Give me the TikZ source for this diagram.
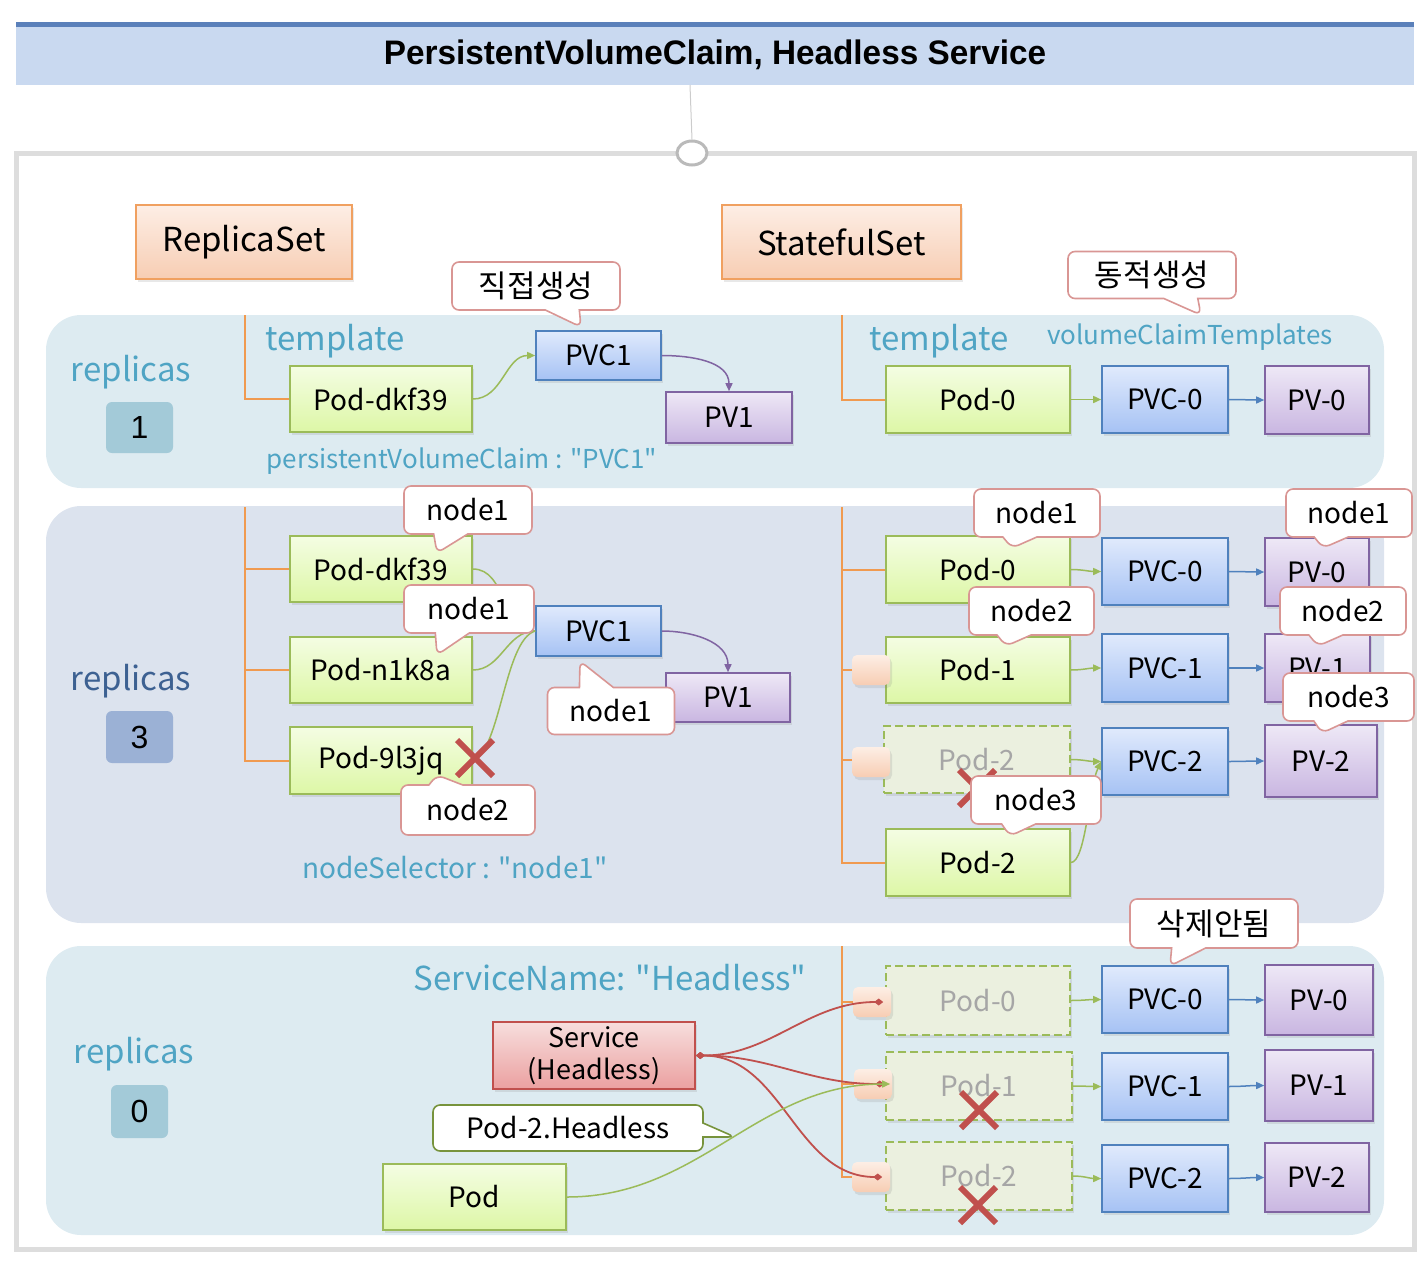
\documentclass[tikz,border=0pt]{standalone}
\usepackage{fontspec}
\setmainfont{Noto Sans CJK KR}[Ligatures=TeXOff]
\newfontfamily\arialfont{Liberation Sans}
\usetikzlibrary{shapes.callouts,shapes.geometric,shadows,arrows.meta}
\definecolor{podbd}{HTML}{9BBB59}
\definecolor{podtop}{HTML}{F4FDE3}
\definecolor{podbot}{HTML}{DDF7A6}
\definecolor{pvcbd}{HTML}{4F81BD}
\definecolor{pvctop}{HTML}{E0EAFC}
\definecolor{pvcbot}{HTML}{A6C2F4}
\definecolor{pvbd}{HTML}{8064A2}
\definecolor{pvtop}{HTML}{EEE8F6}
\definecolor{pvbot}{HTML}{C9B6E1}
\definecolor{orbd}{HTML}{F0A060}
\definecolor{ortop}{HTML}{FDEEE5}
\definecolor{orbot}{HTML}{F7CDB3}
\definecolor{redbd}{HTML}{C0504D}
\definecolor{redtop}{HTML}{F7DEDD}
\definecolor{redbot}{HTML}{EBA0A0}
\definecolor{calbd}{HTML}{D99694}
\definecolor{tealtxt}{HTML}{4FA4C4}
\definecolor{navytxt}{HTML}{3D6192}
\definecolor{bandA}{HTML}{DDEBF1}
\definecolor{bandB}{HTML}{DCE3EE}
\definecolor{ghostfill}{HTML}{EBF0DF}
\definecolor{ghosttext}{HTML}{A6A6A6}
\definecolor{treec}{HTML}{F09A50}
\definecolor{titlefill}{HTML}{C9D9F0}
\definecolor{titleline}{HTML}{5A80BA}
\definecolor{framec}{HTML}{DDDDDD}
\definecolor{digA}{HTML}{A3CAD8}
\definecolor{digB}{HTML}{9BB1D5}
\definecolor{hcallbd}{HTML}{77933C}
\tikzset{
  shad/.style={drop shadow={shadow xshift=2pt,shadow yshift=-3pt,opacity=0.18}},
  wh/.style 2 args={minimum width=#1pt,minimum height=#2pt},
  box/.style={draw,line width=1.6pt,inner sep=0pt,shad,font=\fontsize{28}{32}\selectfont},
  pod/.style={box,draw=podbd,top color=podtop,bottom color=podbot},
  ghost/.style={draw=podbd,dash pattern=on 8pt off 4pt,line width=1.8pt,fill=ghostfill,text=ghosttext,shad,inner sep=0pt,font=\fontsize{28}{32}\selectfont},
  pvc/.style={box,draw=pvcbd,top color=pvctop,bottom color=pvcbot},
  pvb/.style={box,draw=pvbd,top color=pvtop,bottom color=pvbot},
  setbox/.style={box,draw=orbd,top color=ortop,bottom color=orbot,font=\fontsize{33}{36}\selectfont},
  sq/.style={rounded corners=5pt,top color=ortop,bottom color=orbot,shad,minimum width=38pt,minimum height=30pt,inner sep=0pt},
  call/.style={rectangle callout,draw=calbd,line width=1.6pt,fill=white,rounded corners=7pt,inner sep=0pt,callout pointer width=34pt,font=\fontsize{28}{32}\selectfont},
  kor/.style={font=\fontsize{31}{34}\selectfont},
  lab/.style={text=tealtxt,inner sep=0pt,anchor=base,font=\fontsize{33}{36}\selectfont},
  labs/.style={text=tealtxt,inner sep=0pt,anchor=base,font=\fontsize{26}{30}\selectfont},
  dig/.style={rounded corners=6pt,inner sep=0pt,font=\arialfont\fontsize{32}{34}\selectfont},
  garr/.style={draw=podbd,line width=1.5pt,-{Triangle[length=8pt,width=7pt]}},
  gln/.style={draw=podbd,line width=1.5pt},
  barr/.style={draw=pvcbd,line width=1.5pt,-{Triangle[length=8pt,width=7pt]}},
  parr/.style={draw=pvbd,line width=1.5pt,-{Triangle[length=8pt,width=7pt]}},
  rln/.style={draw=redbd,line width=1.8pt,{Diamond[length=9pt,width=7pt]}-{Diamond[length=9pt,width=7pt]}},
  tree/.style={draw=treec,line width=2pt},
  xmark/.style={draw=redbd,line width=6pt},
}
\begin{document}
\begin{tikzpicture}[x=1pt,y=-1pt]
\useasboundingbox (0,0) rectangle (1428,1264);
% title
\fill[titlefill] (16,24) rectangle (1414,85);
\draw[titleline,line width=5pt] (16,24) -- (1414,24);
\node[font=\arialfont\bfseries\fontsize{34}{38}\selectfont,inner sep=0pt,xscale=0.98] (title) at (715,55) {PersistentVolumeClaim, Headless Service};
% frame
\draw[framec,line width=5pt] (16,153) rectangle (1414,1249);
\node[draw=black!27,line width=3pt,fill=white,ellipse,minimum width=30pt,minimum height=24pt,inner sep=0pt] (knob) at (692,153) {};
\draw[black!20,line width=1pt] (690,85) -- (knob.north);
% bands
\fill[bandA,rounded corners=35pt] (46,315) rectangle (1384,488);
\fill[bandB,rounded corners=35pt] (46,506) rectangle (1384,923);
\fill[bandA,rounded corners=35pt] (46,946) rectangle (1384,1235);
% set boxes
\node[setbox,wh={216}{74}] (rs) at (244,242) {ReplicaSet};
\node[setbox,wh={239}{74}] (ss) at (841.5,242) {StatefulSet};
% labels
\node[lab] (rep1) at (131,381) {replicas};
\node[dig,fill=digA,wh={67}{51}] (d1) at (139.5,427.5) {1};
\node[lab] (tpl1) at (335,350) {template};
\node[labs] (pvcl) at (462,468) {persistentVolumeClaim : "PVC1"};
\node[lab] (tpl2) at (939,350) {template};
\node[labs] (vct) at (1190,344) {volumeClaimTemplates};
\node[lab,text=navytxt] (rep2) at (131,690) {replicas};
\node[dig,fill=digB,wh={67}{52}] (d3) at (139.5,737) {3};
\node[labs,font=\fontsize{28}{32}\selectfont] (nsel) at (455,878) {nodeSelector : "node1"};
\node[lab] (rep3) at (134,1063) {replicas};
\node[dig,fill=digA,wh={57}{53}] (d0) at (139.5,1111.5) {0};
\node[lab] (svn) at (610,990) {ServiceName: "Headless"};
% tree anchor coordinates
\coordinate (t1a) at (245,315);
\coordinate (t1b) at (842,315);
\coordinate (t2a) at (245,507);
\coordinate (t2b) at (842,507);
\coordinate (t3b) at (842,946);
% ===== band 1 boxes
\node[pod,wh={182}{66}] (a1pod) at (381,399) {Pod-dkf39};
\node[pvc,wh={125}{49}] (a1pvc) at (598.5,355.5) {PVC1};
\node[pvb,wh={126}{51}] (a1pv) at (729,417.5) {PV1};
\node[pod,wh={184}{67}] (b1pod) at (978,399.5) {Pod-0};
\node[pvc,wh={126}{67}] (b1pvc) at (1165,399.5) {PVC-0};
\node[pvb,wh={104}{68}] (b1pv) at (1317,400) {PV-0};
\draw[tree] (t1a) |- (a1pod.west);
\draw[tree] (t1b) |- (b1pod.west);
% ===== band 2 boxes
\node[pod,wh={182}{66}] (a2p1) at (381,569) {Pod-dkf39};
\node[pod,wh={182}{66}] (a2p2) at (381,670) {Pod-n1k8a};
\node[pod,wh={182}{67}] (a2p3) at (381,760.5) {Pod-9l3jq};
\node[pvc,wh={125}{50}] (a2pvc) at (598.5,631) {PVC1};
\node[pvb,wh={124}{49}] (a2pv) at (728,697.5) {PV1};
\draw[tree] (t2a) |- (a2p3.west);
\draw[tree] (a2p1.west -| t2a) -- (a2p1.west);
\draw[tree] (a2p2.west -| t2a) -- (a2p2.west);
\node[pod,wh={184}{67}] (b2p0) at (978,569.5) {Pod-0};
\node[pod,wh={184}{66}] (b2p1) at (978,670) {Pod-1};
\node[ghost,wh={186}{67}] (b2p2g) at (977,759.5) {Pod-2};
\node[pod,wh={184}{67}] (b2p2) at (978,862.5) {Pod-2};
\node[pvc,wh={126}{67}] (b2pvc0) at (1165,571.5) {PVC-0};
\node[pvc,wh={126}{68}] (b2pvc1) at (1165,668) {PVC-1};
\node[pvc,wh={126}{67}] (b2pvc2) at (1165,761.5) {PVC-2};
\node[pvb,wh={104}{68}] (b2pv0) at (1317,572) {PV-0};
\node[pvb,wh={105}{68}] (b2pv1) at (1317.5,668) {PV-1};
\node[pvb,wh={112}{72}] (b2pv2) at (1321,761) {PV-2};
\draw[tree] (t2b) |- (b2p2.west);
\draw[tree] (b2p0.west -| t2b) -- (b2p0.west);
\draw[tree] (b2p1.west -| t2b) -- (b2p1.west);
\draw[tree] (b2p2g.west -| t2b) -- (b2p2g.west);
\node[sq] (s21) at (871,670) {};
\node[sq] (s22) at (871,762) {};
% ===== band 3 boxes
\node[box,draw=redbd,top color=redtop,bottom color=redbot,wh={202}{67},align=center,font=\fontsize{27}{32}\selectfont] (svc) at (594,1055.5) {Service\\(Headless)};
\node[pod,wh={183}{66}] (podx) at (474.5,1197) {Pod};
\node[ghost,wh={184}{69}] (b3p0) at (978,1000.5) {Pod-0};
\node[ghost,wh={186}{68}] (b3p1) at (979,1086) {Pod-1};
\node[ghost,wh={186}{68}] (b3p2) at (979,1176) {Pod-2};
\node[pvc,wh={126}{67}] (b3pvc0) at (1165,999.5) {PVC-0};
\node[pvc,wh={126}{67}] (b3pvc1) at (1165,1086.5) {PVC-1};
\node[pvc,wh={126}{67}] (b3pvc2) at (1165,1178.5) {PVC-2};
\node[pvb,wh={108}{70}] (b3pv0) at (1319,1000) {PV-0};
\node[pvb,wh={108}{71}] (b3pv1) at (1319,1085.5) {PV-1};
\node[pvb,wh={104}{69}] (b3pv2) at (1317,1177.5) {PV-2};
\coordinate (s30) at (872,1002);
\coordinate (s31) at (873,1084);
\coordinate (s32) at (871,1177);
% ===== connectors band 1
\draw[garr] (a1pod.east) to[out=0,in=180] (a1pvc.west);
\draw[parr] (a1pvc.east) to[out=0,in=90] (a1pv.north);
\draw[garr] (b1pod.east) to[out=0,in=180] (b1pvc.west);
\draw[barr] (b1pvc.east) to[out=0,in=180] (b1pv.west);
% ===== connectors band 2
\draw[gln] (a2p1.east) to[out=0,in=180] (a2pvc.west);
\draw[gln] (a2p2.east) to[out=0,in=180] (a2pvc.west);
\draw[gln] (a2p3.east) .. controls +(28,-10) and +(-31,9) .. (a2pvc.west);
\draw[parr] (a2pvc.east) to[out=0,in=90] (a2pv.north);
\draw[garr] (b2p0.east) to[out=0,in=180] (b2pvc0.west);
\draw[garr] (b2p1.east) to[out=0,in=180] (b2pvc1.west);
\draw[garr] (b2p2g.east) to[out=0,in=180] (b2pvc2.west);
\draw[garr] (b2p2.east) .. controls +(15,0) and +(-12,25) .. (b2pvc2.west);
\draw[barr] (b2pvc0.east) to[out=0,in=180] (b2pv0.west);
\draw[barr] (b2pvc1.east) to[out=0,in=180] (b2pv1.west);
\draw[barr] (b2pvc2.east) to[out=0,in=180] (b2pv2.west);
% ===== connectors band 3
\draw[tree] (t3b) |- (s32);
\draw[tree] (s30 -| t3b) -- (s30);
\draw[tree] (s31 -| t3b) -- (s31);
\node[sq] (q30) at (s30) {};
\node[sq] (q31) at (s31) {};
\node[sq] (q32) at (s32) {};
\draw[garr] (b3p0.east) to[out=0,in=180] (b3pvc0.west);
\draw[garr] (b3p1.east) to[out=0,in=180] (b3pvc1.west);
\draw[garr] (b3p2.east) to[out=0,in=180] (b3pvc2.west);
\draw[barr] (b3pvc0.east) to[out=0,in=180] (b3pv0.west);
\draw[barr] (b3pvc1.east) to[out=0,in=180] (b3pv1.west);
\draw[barr] (b3pvc2.east) to[out=0,in=180] (b3pv2.west);
\draw[rln] (svc.east) to[out=0,in=180] ([xshift=-8pt]q30.east);
\draw[rln] (svc.east) to[out=0,in=180] ([xshift=-8pt]q31.east);
\draw[rln] (svc.east) to[out=0,in=180] ([xshift=-8pt]q32.east);
\draw[garr] (podx.east) to[out=0,in=180] ([xshift=-2pt]q31.east);
% ===== X marks
\draw[xmark] (457,740) -- (493,776); \draw[xmark] (457,776) -- (493,740);
\draw[xmark] (959,770) -- (995,806); \draw[xmark] (959,806) -- (995,770);
\draw[xmark] (961,1092) -- (997,1128); \draw[xmark] (961,1128) -- (997,1092);
\draw[xmark] (960,1187) -- (996,1223); \draw[xmark] (960,1223) -- (996,1187);
% ===== callouts
\node[call,kor,wh={168}{48},callout absolute pointer={(581,327)}] (c1) at (536,286) {직접생성};
\node[call,kor,wh={168}{47},callout absolute pointer={(1201,315)}] (c2) at (1152,275) {동적생성};
\node[call,wh={128}{48},callout absolute pointer={(437,553)}] (n1) at (468,510) {node1};
\node[call,wh={130}{48},callout absolute pointer={(437,655)}] (n2) at (469,609) {node1};
\node[call,wh={127}{47},callout absolute pointer={(580,661)}] (n3) at (611,711) {node1};
\node[call,wh={134}{50},callout absolute pointer={(437,775)}] (n4) at (468,810) {node2};
\node[call,wh={126}{48},callout absolute pointer={(1012,548)}] (r1) at (1037,513) {node1};
\node[call,wh={125}{48},callout absolute pointer={(1006,646)}] (r2) at (1031.5,611) {node2};
\node[call,wh={130}{48},callout absolute pointer={(1010,836)}] (r3) at (1036,800) {node3};
\node[call,wh={126}{48},callout absolute pointer={(1323,548)}] (r4) at (1349,513) {node1};
\node[call,wh={126}{48},callout absolute pointer={(1318,646)}] (r5) at (1343,611) {node2};
\node[call,wh={131}{48},callout absolute pointer={(1322,733)}] (r6) at (1348.5,697) {node3};
\node[call,kor,wh={168}{49},callout absolute pointer={(1170,966)}] (c3) at (1214,923.5) {삭제안됨};
\node[call,draw=hcallbd,wh={270}{46},callout pointer width=14pt,callout absolute pointer={(735,1137)}] (hc) at (568,1128) {Pod-2.Headless};
\end{tikzpicture}
\end{document}
